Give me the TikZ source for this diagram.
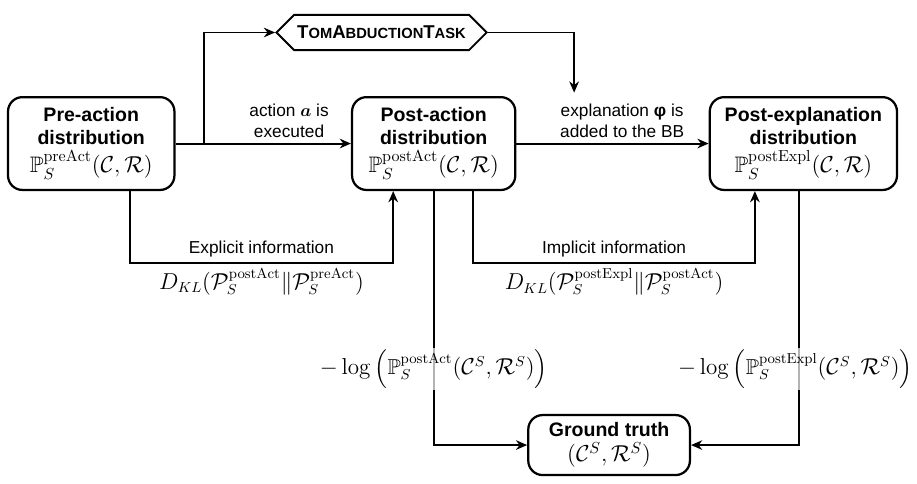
\documentclass[tikz,border=0pt]{standalone}
\usepackage{amsmath}
\usepackage{amssymb}
\usepackage{bm}
\usepackage[no-math]{fontspec}
\setmainfont{Liberation Sans}
\usepackage{tikz}
\usetikzlibrary{arrows.meta, shapes.symbols, positioning}

\newcommand{\tomtask}{\textbf{T{\fontsize{9.2}{10}\selectfont OM}A{\fontsize{9.2}{10}\selectfont BDUCTION}T{\fontsize{9.2}{10}\selectfont ASK}}}
\newcommand{\mathline}[1]{{\fontsize{14}{16}\selectfont$#1$}}

\tikzset{
	distbox/.style={draw, line width=1.4pt, rounded corners=9pt, align=center, minimum height=58pt, inner sep=2pt, font=\fontsize{12.2}{14.5}\selectfont},
	taskbox/.style={draw, line width=1.2pt, shape=signal, signal to=west and east, signal pointer angle=90, minimum width=129pt, minimum height=22pt, inner sep=2pt, font=\fontsize{11.6}{13}\selectfont},
	flow/.style={line width=1.2pt, -{Stealth[length=7pt,width=6pt]}},
	lbl/.style={font=\fontsize{10.8}{13}\selectfont, align=center},
	mlbl/.style={font=\fontsize{13.5}{16}\selectfont, inner sep=1pt},
	overline/.style={fill=white, fill opacity=0.7, text opacity=1}
}

\begin{document}
\begin{tikzpicture}[on grid]
	\useasboundingbox (0,0) rectangle (573pt,-302pt);

	\node[distbox, minimum width=104pt] (pre) at (57pt,-89.7pt) {\textbf{Pre-action}\\\textbf{distribution}\\[3pt]\mathline{\mathbb{P}_S^{\mathrm{preAct}}(\mathcal{C},\mathcal{R})}};
	\node[distbox, minimum width=102pt, right=214pt of pre] (post) {\textbf{Post-action}\\\textbf{distribution}\\[3pt]\mathline{\mathbb{P}_S^{\mathrm{postAct}}(\mathcal{C},\mathcal{R})}};
	\node[distbox, minimum width=117pt, right=231pt of post] (expl) {\textbf{Post-explanation}\\\textbf{distribution}\\[3pt]\mathline{\mathbb{P}_S^{\mathrm{postExpl}}(\mathcal{C},\mathcal{R})}};
	\node[taskbox, above left=69.4pt and 32.6pt of post] (task) {\tomtask};
	\node[distbox, minimum width=101pt, minimum height=37.5pt, below right=188.4pt and 109.6pt of post] (truth) {\textbf{Ground truth}\\[1pt]\mathline{(\mathcal{C}^S,\mathcal{R}^S)}};

	\coordinate[right=17.5pt of pre.east] (split);
	\coordinate (expbend) at ([xshift=-25.3pt,yshift=-45pt]post.south);
	\coordinate (impbend) at ([xshift=-30.3pt,yshift=-45pt]expl.south);

	% top row
	\draw[line width=1.2pt] (pre.east) -- (split);
	\draw[flow] (split) -- node[lbl, above, pos=0.58] {action $\bm{a}$ is\\executed} (post.west);
	\draw[flow] (split) |- (task.west);
	\draw[flow] (post.east) -- node[lbl, above, pos=0.55] (explainlbl) {explanation \textbf{φ} is\\added to the BB} (expl.west);
	\draw[flow] (task.east) -| ([xshift=-30pt,yshift=3pt]explainlbl.north);

	% information gain
	\draw[flow] ([xshift=24pt]pre.south) |- node[lbl, above, pos=0.75] {Explicit information} node[mlbl, below=2pt, pos=0.75] {$D_{KL}(\mathcal{P}_S^{\mathrm{postAct}}\|\mathcal{P}_S^{\mathrm{preAct}})$} (expbend) -- ([xshift=-25.3pt]post.south);
	\draw[flow] ([xshift=24.7pt]post.south) |- node[lbl, above, pos=0.75] {Implicit information} node[mlbl, below=2pt, pos=0.75] {$D_{KL}(\mathcal{P}_S^{\mathrm{postExpl}}\|\mathcal{P}_S^{\mathrm{postAct}})$} (impbend) -- ([xshift=-30.3pt]expl.south);

	% ground truth
	\draw[flow] (post.south) |- node[mlbl, overline, pos=0.35] {$-\log\left(\mathbb{P}_S^{\mathrm{postAct}}(\mathcal{C}^S,\mathcal{R}^S)\right)$} (truth.west);
	\draw[flow] ([xshift=-3pt]expl.south) |- node[mlbl, overline, pos=0.35, xshift=-2pt] {$-\log\left(\mathbb{P}_S^{\mathrm{postExpl}}(\mathcal{C}^S,\mathcal{R}^S)\right)$} (truth.east);
\end{tikzpicture}
\end{document}
